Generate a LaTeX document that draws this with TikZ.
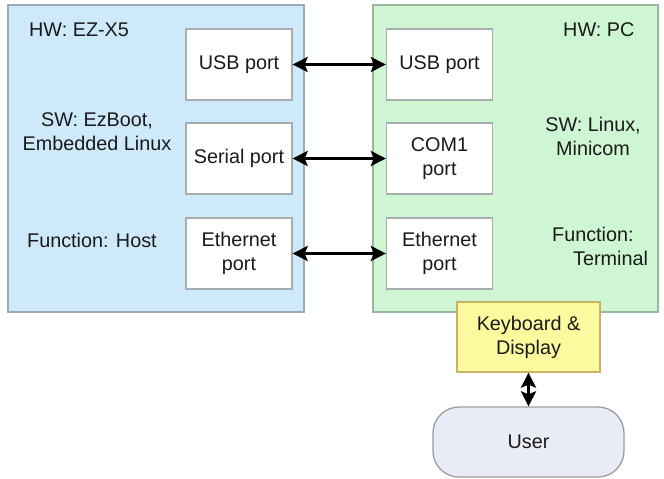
\documentclass[tikz,border=0pt]{standalone}
\usepackage{fontspec}
\setmainfont{Liberation Sans}
\usetikzlibrary{arrows.meta}
\definecolor{hostfill}{HTML}{CDE9FA}
\definecolor{hostdraw}{HTML}{9EAAB4}
\definecolor{pcfill}{HTML}{CFF6D2}
\definecolor{pcdraw}{HTML}{9DB49F}
\definecolor{portdraw}{HTML}{A8ADB0}
\definecolor{kbfill}{HTML}{FBFA9E}
\definecolor{kbdraw}{HTML}{C9B266}
\definecolor{userfill}{HTML}{E9ECF5}
\definecolor{userdraw}{HTML}{9A9DA3}
\definecolor{txt}{HTML}{1A1A1A}
\tikzset{
  every node/.style={text=txt, font=\fontsize{19.8}{24}\selectfont},
  bigbox/.style={draw, line width=1.3pt, minimum width=#1, inner sep=0pt},
  portbox/.style={draw=portdraw, fill=white, line width=1.3pt, minimum width=106pt, minimum height=71pt, inner sep=0pt, align=center},
  plain/.style={inner sep=0pt, align=center},
  link/.style={line width=3.2pt, {Stealth[length=15pt,width=15pt,inset=3pt]}-{Stealth[length=15pt,width=15pt,inset=3pt]}}
}
\begin{document}
\begin{tikzpicture}[x=1pt,y=-1pt]
\useasboundingbox (0,0) rectangle (664,479);
% big boxes
\node[bigbox=296pt, draw=hostdraw, fill=hostfill, minimum height=307pt] (host) at (156,158.5) {};
\node[bigbox=285pt, draw=pcdraw, fill=pcfill, minimum height=307pt] (pc) at (515.5,158.5) {};
% host texts
\node[plain, anchor=base west] (hwhost) at (29,36) {HW: EZ-X5};
\node[plain] (swhost) at (97,131.5) {\fontsize{19.8}{20}\selectfont SW: EzBoot,\\Embedded Linux};
\node[plain, anchor=base west] (fnhost) at (27,247) {Function: Host};
% pc texts
\node[plain, anchor=base west] (hwpc) at (563,36) {HW: PC};
\node[plain] (swpc) at (593,136) {\fontsize{19.8}{20}\selectfont SW: Linux,\\Minicom};
\node[plain, anchor=west, align=left] (fnpc) at (552,246.5) {Function:\\\hspace*{21pt}Terminal};
% ports
\node[portbox] (husb) at (239,64.5) {USB port};
\node[portbox] (hser) at (239,158.5) {Serial port};
\node[portbox] (heth) at (239,253.5) {Ethernet\\port};
\node[portbox] (pusb) at (439.5,64.5) {USB port};
\node[portbox] (pcom) at (439.5,158.5) {COM1\\port};
\node[portbox] (peth) at (439.5,253.5) {Ethernet\\port};
% keyboard and user
\node[draw=kbdraw, fill=kbfill, line width=1.3pt, minimum width=143pt, minimum height=70pt, inner sep=0pt, align=center] (kbd) at (528.5,337) {Keyboard \&\\Display};
\node[draw=userdraw, fill=userfill, line width=1.3pt, minimum width=191pt, minimum height=70pt, rounded corners=26pt, inner sep=0pt] (user) at (528.5,442) {User};
% links
\draw[link] (husb) -- (pusb);
\draw[link] (hser) -- (pcom);
\draw[link] (heth) -- (peth);
\draw[link] (kbd) -- (user);
\end{tikzpicture}
\end{document}
